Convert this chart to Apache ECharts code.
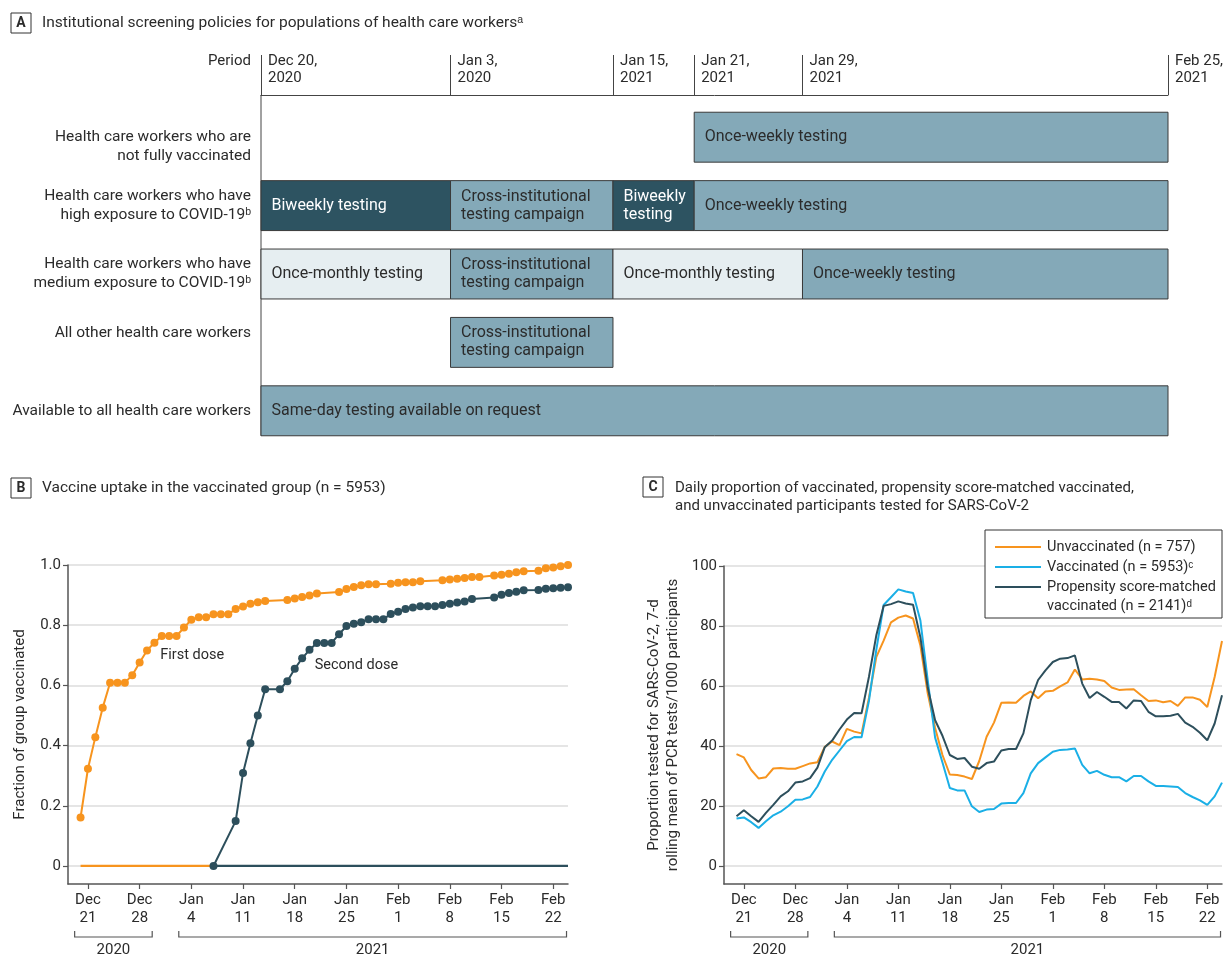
<!DOCTYPE html>
<html>
<head>
<meta charset="utf-8">
<title>Screening policies, vaccine uptake and testing of health care workers</title>
<script src="https://cdn.jsdelivr.net/npm/echarts@6.0.0/dist/echarts.min.js"></script>
<style>
html, body { margin: 0; padding: 0; background: #fff; }
#main { width: 1231px; height: 974px; }
</style>
</head>
<body>
<div id="main"></div>
<script>
// ---------- panel A: screening policies ----------
// days counted from Dec 20, 2020
var periodDays = [0, 14, 26, 32, 40, 67];
var periodLabels = ['Dec 20,\n2020', 'Jan 3,\n2020', 'Jan 15,\n2021', 'Jan 21,\n2021', 'Jan 29,\n2021', 'Feb 25,\n2021'];
// blank lines nudge two labels the way the original sets them
var groupLabels = [
  '\nHealth care workers who are\nnot fully vaccinated',
  'Health care workers who have\nhigh exposure to COVID-19\u1d47',
  'Health care workers who have\nmedium exposure to COVID-19\u1d47',
  'All other health care workers\n ',
  'Available to all health care workers'
];
var policyRow   = [0, 1, 1, 1, 1, 2, 2, 2, 2, 3, 4];
var policyStart = [32, 0, 14, 26, 32, 0, 14, 26, 40, 14, 0];
var policyEnd   = [67, 14, 26, 32, 67, 14, 26, 40, 67, 26, 67];
var policyText  = [
  'Once-weekly testing',
  'Biweekly testing', 'Cross-institutional\ntesting campaign', 'Biweekly\ntesting', 'Once-weekly testing',
  'Once-monthly testing', 'Cross-institutional\ntesting campaign', 'Once-monthly testing', 'Once-weekly testing',
  'Cross-institutional\ntesting campaign',
  'Same-day testing available on request'
];
var policyKind  = ['mid', 'dark', 'mid', 'dark', 'mid', 'light', 'mid', 'light', 'mid', 'mid', 'mid'];

// ---------- shared time axis for B and C (days from Dec 21, 2020) ----------
var weekDays = [0, 7, 14, 21, 28, 35, 42, 49, 56, 63];
var weekLabels = ['Dec\n21', 'Dec\n28', 'Jan\n4', 'Jan\n11', 'Jan\n18', 'Jan\n25', 'Feb\n1', 'Feb\n8', 'Feb\n15', 'Feb\n22'];
var yearLabels = ['2020', '2021'];
var yearSpans = [[-1.8, 8.7], [12.3, 64.8]];

// ---------- panel B: vaccine uptake ----------
var firstDoseDays = [-1, 0, 1, 2, 3, 4, 5, 6, 7, 8, 9, 10, 11, 12, 13, 14, 15, 16, 17, 18, 19, 20, 21, 22, 23, 24,
  27, 28, 29, 30, 31, 34, 35, 36, 37, 38, 39, 41, 42, 43, 44, 45, 48, 49, 50, 51, 52, 53, 55, 56, 57, 58, 59,
  61, 62, 63, 64, 65];
var firstDoseFraction = [0.161, 0.323, 0.428, 0.526, 0.609, 0.609, 0.609, 0.634, 0.676, 0.716, 0.742, 0.764,
  0.764, 0.764, 0.792, 0.818, 0.826, 0.826, 0.836, 0.836, 0.836, 0.854, 0.862, 0.871, 0.876, 0.880,
  0.884, 0.889, 0.894, 0.899, 0.905, 0.910, 0.920, 0.927, 0.933, 0.936, 0.936, 0.938, 0.941, 0.943, 0.943,
  0.946, 0.949, 0.952, 0.954, 0.957, 0.960, 0.960, 0.965, 0.968, 0.971, 0.976, 0.979,
  0.981, 0.989, 0.992, 0.996, 1.000];
var secondDoseDays = [17, 20, 21, 22, 23, 24, 26, 27, 28, 29, 30, 31, 32, 33, 34, 35, 36, 37, 38, 39, 40, 41,
  42, 43, 44, 45, 46, 47, 48, 49, 50, 51, 52, 55, 56, 57, 58, 59, 61, 62, 63, 64, 65];
var secondDoseFraction = [0, 0.149, 0.309, 0.408, 0.500, 0.587, 0.587, 0.614, 0.655, 0.690, 0.718, 0.741,
  0.741, 0.741, 0.770, 0.797, 0.805, 0.810, 0.820, 0.820, 0.820, 0.837, 0.845, 0.854, 0.859, 0.863, 0.863,
  0.863, 0.867, 0.871, 0.875, 0.879, 0.887, 0.892, 0.901, 0.907, 0.911, 0.916, 0.917, 0.921, 0.923, 0.924, 0.926];
// zero baseline: orange before the second dose starts, dark after
var baselineBeforeDays = [-1, 17];
var baselineAfterDays = [17, 65];
var baselineValues = [0, 0];

// ---------- panel C: tests per 1000 participants ----------
var testDays = [-1, 0, 1, 2, 3, 4, 5, 6, 7, 8, 9, 10, 11, 12, 13, 14, 15, 16, 17, 18, 19, 20, 21, 22, 23, 24,
  25, 26, 27, 28, 29, 30, 31, 32, 33, 34, 35, 36, 37, 38, 39, 40, 41, 42, 43, 44, 45, 46, 47, 48, 49, 50,
  51, 52, 53, 54, 55, 56, 57, 58, 59, 60, 61, 62, 63, 64, 65];
var unvaccinated = [37.3, 36.2, 32.0, 29.2, 29.6, 32.5, 32.7, 32.4, 32.4, 33.3, 34.2, 34.6, 39.7, 41.5, 40.3,
  45.7, 44.8, 44.2, 56.0, 69.6, 75.1, 81.2, 82.8, 83.5, 82.5, 73.5, 57.5, 46.0, 37.0, 30.5, 30.3, 29.8, 29.0,
  35.0, 43.1, 47.8, 54.4, 54.5, 54.4, 56.7, 58.2, 55.9, 58.2, 58.4, 59.9, 61.2, 65.5, 62.2, 62.4, 62.2, 61.7,
  59.5, 58.7, 58.8, 58.9, 56.9, 55.0, 55.2, 54.6, 55.0, 53.4, 56.2, 56.2, 55.4, 53.0, 63.0, 75.0];
var vaccinated = [15.8, 16.2, 14.6, 12.7, 14.9, 16.9, 18.1, 19.9, 22.1, 22.2, 23.0, 26.5, 31.5, 35.4, 38.5,
  41.6, 43.0, 42.9, 55.0, 72.0, 87.0, 89.6, 92.2, 91.5, 91.0, 81.8, 61.9, 42.8, 34.5, 26.0, 25.2, 25.2, 19.9,
  18.0, 18.8, 19.0, 20.8, 21.0, 21.0, 24.3, 30.9, 34.3, 36.2, 38.1, 38.7, 38.8, 39.2, 33.7, 30.9, 31.7, 30.4,
  29.6, 29.6, 28.2, 30.0, 30.0, 28.2, 26.7, 26.7, 26.5, 26.3, 24.3, 23.0, 21.9, 20.4, 23.2, 27.8];
var matchedVaccinated = [16.6, 18.6, 16.6, 14.7, 17.7, 20.4, 23.2, 24.9, 27.8, 28.2, 29.3, 32.8, 39.6, 41.8, 45.5,
  48.8, 51.0, 50.9, 63.0, 76.8, 86.7, 87.3, 88.2, 87.5, 87.1, 76.2, 59.4, 48.6, 43.4, 37.0, 35.7, 36.0, 33.1,
  32.4, 34.3, 34.8, 38.5, 39.0, 39.0, 44.2, 55.3, 62.0, 65.2, 68.0, 69.1, 69.3, 70.2, 60.8, 56.0, 58.0, 56.4,
  54.7, 54.7, 52.5, 55.2, 55.0, 51.4, 49.9, 49.9, 50.1, 50.7, 47.8, 46.4, 44.4, 41.9, 47.5, 56.9];
var fractionTicks = [0, 0.2, 0.4, 0.6, 0.8, 1.0];
var testTicks = [0, 20, 40, 60, 80, 100];

// ---------- styles ----------
var FONT = 'Roboto, "Open Sans", sans-serif';
var TXT = '#2b2b2b';
var ORANGE = '#f7941e';
var DARK = '#2d4f5c';
var BLUE = '#1aafe6';
var policyFill = { dark: '#2d5361', mid: '#84a9b8', light: '#e6eef1' };

function zip(xs, ys) {
  return xs.map(function (x, i) { return [x, ys[i]]; });
}

function renderPolicy(params, api) {
  var i = api.value(3);
  var a = api.coord([api.value(0), api.value(2)]);
  var b = api.coord([api.value(1), api.value(2)]);
  var h = api.size([0, 1])[1] * 0.73;
  var kind = policyKind[i];
  return {
    type: 'rect',
    shape: { x: a[0], y: a[1] - h / 2, width: b[0] - a[0], height: h },
    style: { fill: policyFill[kind], stroke: '#3a3a3a', lineWidth: 1 },
    textContent: {
      style: {
        text: policyText[i],
        fill: kind === 'dark' ? '#ffffff' : TXT,
        fontSize: 16, fontFamily: FONT, lineHeight: 18
      }
    },
    textConfig: { position: 'insideLeft', distance: 11 }
  };
}

var timeAxis = function (grid) {
  return {
    gridIndex: grid, type: 'value', min: -2.7, max: 65,
    axisLine: { show: true, onZero: false, lineStyle: { color: '#555', width: 1.5 } },
    axisTick: { show: true, customValues: weekDays, length: 5, lineStyle: { color: '#555', width: 1.2 } },
    axisLabel: {
      customValues: weekDays, margin: 7, color: TXT, fontSize: 15, lineHeight: 18, fontFamily: FONT,
      formatter: function (v) { return weekLabels[weekDays.indexOf(v)]; }
    },
    splitLine: { show: false }
  };
};

var valueAxis = function (grid, min, max, ticks, fmt, name, gap) {
  return {
    gridIndex: grid, type: 'value', min: min, max: max,
    name: name, nameLocation: 'middle', nameGap: gap,
    nameTextStyle: { color: TXT, fontSize: 15, lineHeight: 19, fontFamily: FONT },
    axisLine: { show: true, onZero: false, lineStyle: { color: '#555', width: 1.5 } },
    axisTick: { show: true, customValues: ticks, length: 5, lineStyle: { color: '#555', width: 1.2 } },
    axisLabel: { customValues: ticks, margin: 7, color: TXT, fontSize: 15, fontFamily: FONT, formatter: fmt },
    splitLine: { show: true, lineStyle: { color: '#dcdcdc', width: 1.5 } }
  };
};

var chart = echarts.init(document.getElementById('main'), null, { renderer: 'canvas' });

var option = {
  backgroundColor: '#ffffff',
  animation: false,
  textStyle: { fontFamily: FONT },
  grid: [
    { left: 261, right: 63, top: 103, height: 342 },
    { left: 68, width: 500, top: 565, height: 319 },
    { left: 724, width: 498, top: 566, height: 318 }
  ],
  xAxis: [
    {
      gridIndex: 0, type: 'value', position: 'top', offset: 8, min: periodDays[0], max: periodDays[periodDays.length - 1],
      axisLine: { show: true, lineStyle: { color: '#444', width: 1 } },
      axisTick: { show: true, customValues: periodDays, length: 40, lineStyle: { color: '#444', width: 1 } },
      axisLabel: {
        customValues: periodDays, align: 'left', padding: [0, 0, 0, 7], margin: 8,
        color: TXT, fontSize: 15, lineHeight: 17, fontFamily: FONT,
        formatter: function (v) { return periodLabels[periodDays.indexOf(v)]; }
      },
      splitLine: { show: false }
    },
    timeAxis(1),
    timeAxis(2)
  ],
  yAxis: [
    {
      gridIndex: 0, type: 'category', inverse: true, data: groupLabels,
      axisLine: { show: false }, axisTick: { show: false },
      axisLabel: { margin: 10, color: TXT, fontSize: 15.5, lineHeight: 19, fontFamily: FONT }
    },
    valueAxis(1, -0.06, 1, fractionTicks,
      function (v) { return v === 0 ? '0' : v.toFixed(1); }, 'Fraction of group vaccinated', 38),
    valueAxis(2, -6, 100, testTicks,
      function (v) { return String(v); },
      'Proportion tested for SARS-CoV-2, 7-d\nrolling mean of PCR tests/1000 participants', 41)
  ],
  series: [
    {
      name: 'Policies', type: 'custom', xAxisIndex: 0, yAxisIndex: 0,
      renderItem: renderPolicy,
      encode: { x: [0, 1], y: 2 },
      data: policyRow.map(function (r, i) { return [policyStart[i], policyEnd[i], r, i]; })
    },
    {
      name: 'Baseline before', type: 'line', xAxisIndex: 1, yAxisIndex: 1, symbol: 'none',
      lineStyle: { color: ORANGE, width: 2.2 }, data: zip(baselineBeforeDays, baselineValues)
    },
    {
      name: 'Baseline after', type: 'line', xAxisIndex: 1, yAxisIndex: 1, symbol: 'none',
      lineStyle: { color: DARK, width: 2.2 }, data: zip(baselineAfterDays, baselineValues)
    },
    {
      name: 'First dose', type: 'line', xAxisIndex: 1, yAxisIndex: 1,
      symbol: 'circle', symbolSize: 8, itemStyle: { color: ORANGE }, lineStyle: { color: ORANGE, width: 2 },
      data: zip(firstDoseDays, firstDoseFraction),
      markPoint: {
        symbol: 'circle', symbolSize: 0, silent: true,
        label: { show: true, position: 'right', distance: 0, color: TXT, fontSize: 14.5, fontFamily: FONT, formatter: 'First dose' },
        data: [{ coord: [9.8, 0.70] }]
      }
    },
    {
      name: 'Second dose', type: 'line', xAxisIndex: 1, yAxisIndex: 1,
      symbol: 'circle', symbolSize: 8, itemStyle: { color: DARK }, lineStyle: { color: DARK, width: 2 },
      data: zip(secondDoseDays, secondDoseFraction),
      markPoint: {
        symbol: 'circle', symbolSize: 0, silent: true,
        label: { show: true, position: 'right', distance: 0, color: TXT, fontSize: 14.5, fontFamily: FONT, formatter: 'Second dose' },
        data: [{ coord: [30.7, 0.665] }]
      }
    },
    {
      name: 'Unvaccinated (n = 757)', type: 'line', xAxisIndex: 2, yAxisIndex: 2, symbol: 'none',
      lineStyle: { color: ORANGE, width: 2 }, data: zip(testDays, unvaccinated)
    },
    {
      name: 'Vaccinated (n = 5953)', type: 'line', xAxisIndex: 2, yAxisIndex: 2, symbol: 'none',
      lineStyle: { color: BLUE, width: 2 }, data: zip(testDays, vaccinated)
    },
    {
      name: 'Propensity score-matched vaccinated (n = 2141)', type: 'line', xAxisIndex: 2, yAxisIndex: 2, symbol: 'none',
      lineStyle: { color: DARK, width: 2 }, data: zip(testDays, matchedVaccinated)
    }
  ]
};

chart.setOption(option);

// ---------- annotations placed from the axes ----------
function panelTag(letter, x, y) {
  return [
    { type: 'rect', shape: { x: x, y: y, width: 20, height: 20 }, style: { fill: '#fff', stroke: '#333', lineWidth: 1 } },
    { type: 'text', x: x + 10, y: y + 10.5, style: { text: letter, align: 'center', verticalAlign: 'middle', font: 'bold 14px ' + FONT, fill: TXT } }
  ];
}
function plainText(t, x, y, align, size) {
  return { type: 'text', x: x, y: y, style: { text: t, align: align || 'left', verticalAlign: 'middle', font: (size || 15.5) + 'px ' + FONT, fill: TXT } };
}
function yearBrackets(axisIdx) {
  var els = [];
  yearSpans.forEach(function (span, k) {
    var x0 = chart.convertToPixel({ xAxisIndex: axisIdx }, span[0]);
    var x1 = chart.convertToPixel({ xAxisIndex: axisIdx }, span[1]);
    els.push({ type: 'polyline', shape: { points: [[x0, 931], [x0, 937], [x1, 937], [x1, 931]] },
      style: { stroke: '#555', lineWidth: 1.2, fill: null } });
    els.push({ type: 'text', x: (x0 + x1) / 2, y: 950,
      style: { text: yearLabels[k], align: 'center', verticalAlign: 'middle', font: '15px ' + FONT, fill: TXT } });
  });
  return els;
}

var leftX = chart.convertToPixel({ xAxisIndex: 0 }, periodDays[0]);
var row0 = chart.convertToPixel({ yAxisIndex: 0 }, 0);
var row1 = chart.convertToPixel({ yAxisIndex: 0 }, 1);
var lastRow = chart.convertToPixel({ yAxisIndex: 0 }, groupLabels.length - 1);
var barBottom = lastRow + (row1 - row0) * 0.73 / 2;

var legendItems = [
  { color: ORANGE, text: 'Unvaccinated (n = 757)', y: 547 },
  { color: BLUE, text: 'Vaccinated (n = 5953)\u1d9c', y: 567 },
  { color: DARK, text: 'Propensity score-matched\nvaccinated (n = 2141)\u1d48', y: 587 }
];
var legendEls = [
  { type: 'rect', shape: { x: 985, y: 530, width: 237, height: 88 }, style: { fill: '#fff', stroke: '#333', lineWidth: 1 }, z: 10 }
];
legendItems.forEach(function (it) {
  legendEls.push({ type: 'line', shape: { x1: 995, y1: it.y, x2: 1041, y2: it.y }, style: { stroke: it.color, lineWidth: 2 }, z: 11 });
  legendEls.push({ type: 'text', x: 1047, y: it.y - 9.5, style: { text: it.text, align: 'left', verticalAlign: 'top', font: '14.5px ' + FONT, lineHeight: 19.5, fill: TXT }, z: 11 });
});

var graphics = []
  .concat(panelTag('A', 11, 13))
  .concat([plainText('Institutional screening policies for populations of health care workers\u1d43', 42, 23)])
  .concat([plainText('Period', 251, 61, 'right', 15)])
  .concat([{ type: 'line', shape: { x1: leftX, y1: 95, x2: leftX, y2: barBottom }, style: { stroke: '#444', lineWidth: 1 } }])
  .concat(panelTag('B', 11, 478))
  .concat([plainText('Vaccine uptake in the vaccinated group (n = 5953)', 42, 488)])
  .concat(panelTag('C', 643, 477))
  .concat([plainText('Daily proportion of vaccinated, propensity score-matched vaccinated,', 675, 488, 'left', 15)])
  .concat([plainText('and unvaccinated participants tested for SARS-CoV-2', 675, 506, 'left', 15)])
  .concat(yearBrackets(1))
  .concat(yearBrackets(2))
  .concat(legendEls);

chart.setOption({ graphic: graphics });
</script>
</body>
</html>
